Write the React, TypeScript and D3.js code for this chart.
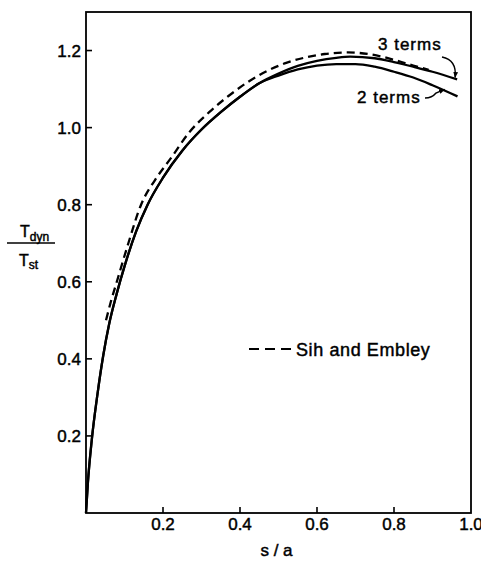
import React, { useEffect, useRef } from 'react';
import * as d3 from 'd3';

// s/a positions and T_dyn/T_st values
const twoTermsS = [0, 0.005, 0.015, 0.03, 0.045, 0.06, 0.08, 0.1, 0.13, 0.16, 0.2, 0.25, 0.3, 0.35, 0.4, 0.45, 0.5, 0.55, 0.6, 0.65, 0.7, 0.75, 0.8, 0.85, 0.9, 0.965];
const twoTermsV = [0, 0.08, 0.19, 0.31, 0.41, 0.49, 0.57, 0.64, 0.73, 0.8, 0.87, 0.94, 0.995, 1.04, 1.08, 1.115, 1.135, 1.151, 1.161, 1.165, 1.165, 1.158, 1.145, 1.13, 1.11, 1.081];

const threeTermsS = [0, 0.005, 0.015, 0.03, 0.045, 0.06, 0.08, 0.1, 0.13, 0.16, 0.2, 0.25, 0.3, 0.35, 0.4, 0.45, 0.5, 0.55, 0.6, 0.65, 0.686, 0.75, 0.8, 0.85, 0.9, 0.964];
const threeTermsV = [0, 0.08, 0.19, 0.31, 0.41, 0.49, 0.57, 0.64, 0.73, 0.8, 0.87, 0.94, 0.995, 1.04, 1.08, 1.115, 1.14, 1.16, 1.173, 1.181, 1.184, 1.18, 1.17, 1.158, 1.145, 1.125];

const sihS = [0.052, 0.065, 0.08, 0.11, 0.143, 0.18, 0.22, 0.27, 0.32, 0.37, 0.42, 0.47, 0.52, 0.57, 0.62, 0.68, 0.74, 0.8, 0.85, 0.89];
const sihV = [0.5, 0.55, 0.6, 0.7, 0.8, 0.865, 0.92, 0.99, 1.04, 1.082, 1.118, 1.147, 1.168, 1.182, 1.191, 1.195, 1.19, 1.176, 1.161, 1.15];

const xTicks = [0.2, 0.4, 0.6, 0.8, 1.0];
const xTickLabels = ['0.2', '0.4', '0.6', '0.8', '1.0'];
const yTicks = [0.2, 0.4, 0.6, 0.8, 1.0, 1.2];
const yTickLabels = ['0.2', '0.4', '0.6', '0.8', '1.0', '1.2'];

const legendLabel = 'Sih and Embley';

const W = 481;
const H = 561;
const FONT = '"Liberation Sans", Arial, Helvetica, sans-serif';

const App = () => {
  const svgRef = useRef<SVGSVGElement>(null);

  useEffect(() => {
    const svg = d3.select(svgRef.current);
    svg.selectAll('*').remove();

    const x = d3.scaleLinear().domain([0, 1]).range([86, 471]);
    const y = d3.scaleLinear().domain([0, 1.3]).range([513, 12]);

    svg.append('defs')
      .append('marker')
      .attr('id', 'arrowhead')
      .attr('viewBox', '0 -5 10 10')
      .attr('refX', 9)
      .attr('refY', 0)
      .attr('orient', 'auto')
      .attr('markerWidth', 6)
      .attr('markerHeight', 6)
      .attr('markerUnits', 'userSpaceOnUse')
      .append('path')
      .attr('d', 'M0,-4L10,0L0,4Z')
      .attr('fill', '#000');

    // frame
    svg.append('rect')
      .attr('x', x(0))
      .attr('y', y(1.3))
      .attr('width', x(1) - x(0))
      .attr('height', y(0) - y(1.3))
      .attr('fill', 'none')
      .attr('stroke', '#000')
      .attr('stroke-width', 1.8);

    // ticks, pointing inward
    svg.selectAll('.ytick')
      .data(yTicks)
      .enter()
      .append('line')
      .attr('x1', x(0))
      .attr('x2', x(0) + 6)
      .attr('y1', d => y(d))
      .attr('y2', d => y(d))
      .attr('stroke', '#000')
      .attr('stroke-width', 1.6);

    svg.selectAll('.xtick')
      .data(xTicks.slice(0, -1))
      .enter()
      .append('line')
      .attr('x1', d => x(d))
      .attr('x2', d => x(d))
      .attr('y1', y(0))
      .attr('y2', y(0) - 6)
      .attr('stroke', '#000')
      .attr('stroke-width', 1.6);

    const labelStyle = (sel: any, size: number) => sel
      .attr('font-family', FONT)
      .attr('font-size', size)
      .attr('fill', '#000')
      .attr('stroke', '#000')
      .attr('stroke-width', 0.45);

    svg.selectAll('.ylabel')
      .data(yTicks)
      .enter()
      .append('text')
      .attr('x', x(0) - 5)
      .attr('y', d => y(d) + 6)
      .attr('text-anchor', 'end')
      .text((d, i) => yTickLabels[i])
      .call(labelStyle, 17);

    svg.selectAll('.xlabel')
      .data(xTicks)
      .enter()
      .append('text')
      .attr('x', d => x(d))
      .attr('y', y(0) + 17)
      .attr('text-anchor', 'middle')
      .text((d, i) => xTickLabels[i])
      .call(labelStyle, 17);

    // axis titles
    svg.append('text')
      .attr('x', x(0.5) - 2)
      .attr('y', 556)
      .attr('text-anchor', 'middle')
      .attr('xml:space', 'preserve')
      .text('s / a')
      .call(labelStyle, 17);

    const num = svg.append('text')
      .attr('x', 20)
      .attr('y', 237)
      .call(labelStyle, 16);
    num.append('tspan').text('T');
    num.append('tspan').attr('font-size', 12).attr('dy', 4).text('dyn');

    svg.append('line')
      .attr('x1', 7)
      .attr('x2', 55)
      .attr('y1', 243)
      .attr('y2', 243)
      .attr('stroke', '#000')
      .attr('stroke-width', 1.6);

    const den = svg.append('text')
      .attr('x', 19)
      .attr('y', 266)
      .call(labelStyle, 16);
    den.append('tspan').text('T');
    den.append('tspan').attr('font-size', 12).attr('dy', 3).text('st');

    // curves
    const series = [
      { s: twoTermsS, v: twoTermsV, dash: null },
      { s: threeTermsS, v: threeTermsV, dash: null },
      { s: sihS, v: sihV, dash: '8,5' },
    ];

    series.forEach(sr => {
      const pts = sr.s.map((s, i) => [x(s), y(sr.v[i])] as [number, number]);
      svg.append('path')
        .attr('d', d3.line().curve(d3.curveMonotoneX)(pts))
        .attr('fill', 'none')
        .attr('stroke', '#000')
        .attr('stroke-width', 2.3)
        .attr('stroke-dasharray', sr.dash);
    });

    // annotations
    const threeEnd = [x(threeTermsS[threeTermsS.length - 1]), y(threeTermsV[threeTermsV.length - 1])];
    const twoEnd = [x(twoTermsS[twoTermsS.length - 1]), y(twoTermsV[twoTermsV.length - 1])];

    svg.append('text')
      .attr('x', 378)
      .attr('y', 50)
      .attr('letter-spacing', 1)
      .text('3 terms')
      .call(labelStyle, 17);

    svg.append('path')
      .attr('d', `M442,57 Q457,60 ${threeEnd[0] - 2},${threeEnd[1] - 2}`)
      .attr('fill', 'none')
      .attr('stroke', '#000')
      .attr('stroke-width', 1.4)
      .attr('marker-end', 'url(#arrowhead)');

    svg.append('text')
      .attr('x', 357)
      .attr('y', 103)
      .attr('letter-spacing', 1)
      .text('2 terms')
      .call(labelStyle, 17);

    svg.append('path')
      .attr('d', `M425,98 Q432,98 436,93 L${twoEnd[0] - 13},${twoEnd[1] - 7}`)
      .attr('fill', 'none')
      .attr('stroke', '#000')
      .attr('stroke-width', 1.4)
      .attr('marker-end', 'url(#arrowhead)');

    // legend
    svg.append('line')
      .attr('x1', 249)
      .attr('x2', 293)
      .attr('y1', 349)
      .attr('y2', 349)
      .attr('stroke', '#000')
      .attr('stroke-width', 2)
      .attr('stroke-dasharray', '10,6');

    svg.append('text')
      .attr('x', 296)
      .attr('y', 356)
      .attr('letter-spacing', 0.6)
      .text(legendLabel)
      .call(labelStyle, 18);
  }, []);

  return (
    <svg
      ref={svgRef}
      width={W}
      height={H}
      style={{ position: 'absolute', left: 0, top: 0, background: '#fff', display: 'block' }}
    />
  );
};

export default App;
